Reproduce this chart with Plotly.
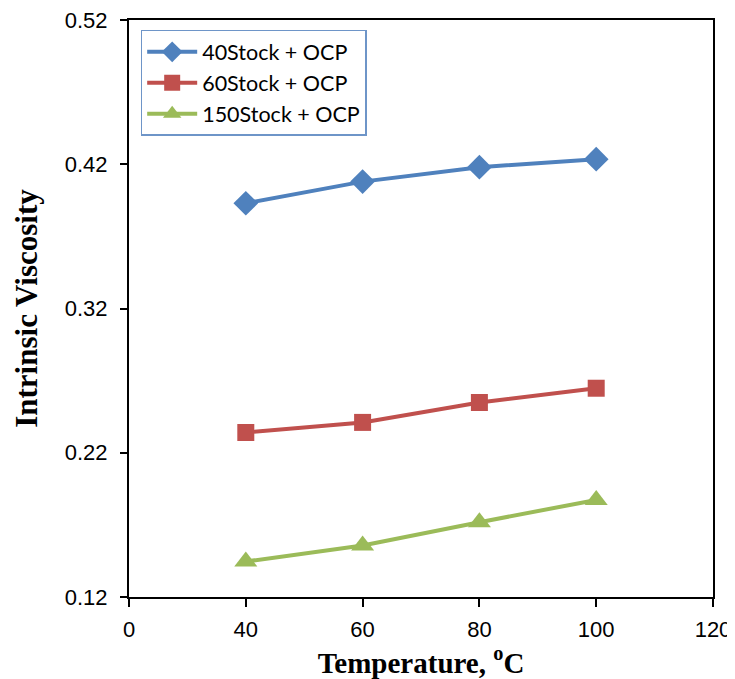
import plotly.graph_objects as go

categories = ["0", "40", "60", "80", "100", "120"]
temps = ["40", "60", "80", "100"]
stock40 = [0.393, 0.408, 0.418, 0.4236]
stock60 = [0.234, 0.241, 0.2548, 0.2647]
stock150 = [0.1445, 0.1556, 0.1718, 0.1872]
series_names = ["40Stock + OCP", "60Stock + OCP", "150Stock + OCP"]
y_ticks = [0.12, 0.22, 0.32, 0.42, 0.52]

fig = go.Figure()
styles = [
    ("#4F81BD", "diamond", 19),
    ("#C0504D", "square", 17),
    ("#9BBB59", "triangle-up", 20),
]
for name, vals, (col, sym, sz) in zip(series_names, [stock40, stock60, stock150], styles):
    fig.add_trace(go.Scatter(
        x=temps, y=vals, name=name, mode="lines+markers",
        line=dict(color=col, width=4),
        marker=dict(color=col, symbol=sym, size=sz),
    ))

fig.update_layout(
    width=735, height=679,
    margin=dict(l=121, r=30, t=12, b=90, autoexpand=False),
    paper_bgcolor="white", plot_bgcolor="white",
    showlegend=True,
    legend=dict(
        x=0.02, y=0.983, xanchor="left", yanchor="top",
        bordercolor="#6E95C8", borderwidth=1.5, bgcolor="white",
        font=dict(family="Lato, Open Sans, sans-serif", size=21.5, color="black"),
        itemwidth=50, tracegroupgap=0,
    ),
    xaxis=dict(
        type="category", categoryorder="array", categoryarray=categories,
        tickmode="array", tickvals=categories, ticktext=categories,
        range=[0, 5], automargin=False,
        showline=True, linecolor="black", linewidth=2, mirror=True,
        ticks="outside", ticklen=8, tickcolor="black", tickwidth=1.5,
        ticklabelstandoff=4, ticklabeloverflow="allow",
        showgrid=False, zeroline=False,
        tickfont=dict(family="Liberation Sans, Arial", size=22, color="black"),
        title=dict(text="<b>Temperature, <sup>o</sup>C</b>", standoff=2,
                   font=dict(family="Liberation Serif, Times New Roman", size=29, color="black")),
    ),
    yaxis=dict(
        range=[0.1199, 0.5201], tickvals=y_ticks, tickformat=".2f", automargin=False,
        showline=True, linecolor="black", linewidth=2, mirror=True,
        ticks="outside", ticklen=7, tickcolor="black", tickwidth=1.5,
        ticklabelstandoff=8, ticklabeloverflow="allow",
        showgrid=False, zeroline=False,
        tickfont=dict(family="Liberation Sans, Arial", size=22, color="black"),
        title=dict(text="<b>Intrinsic Viscosity</b>", standoff=18,
                   font=dict(family="Liberation Serif, Times New Roman", size=31, color="black")),
    ),
)

fig.write_html("out.html")
